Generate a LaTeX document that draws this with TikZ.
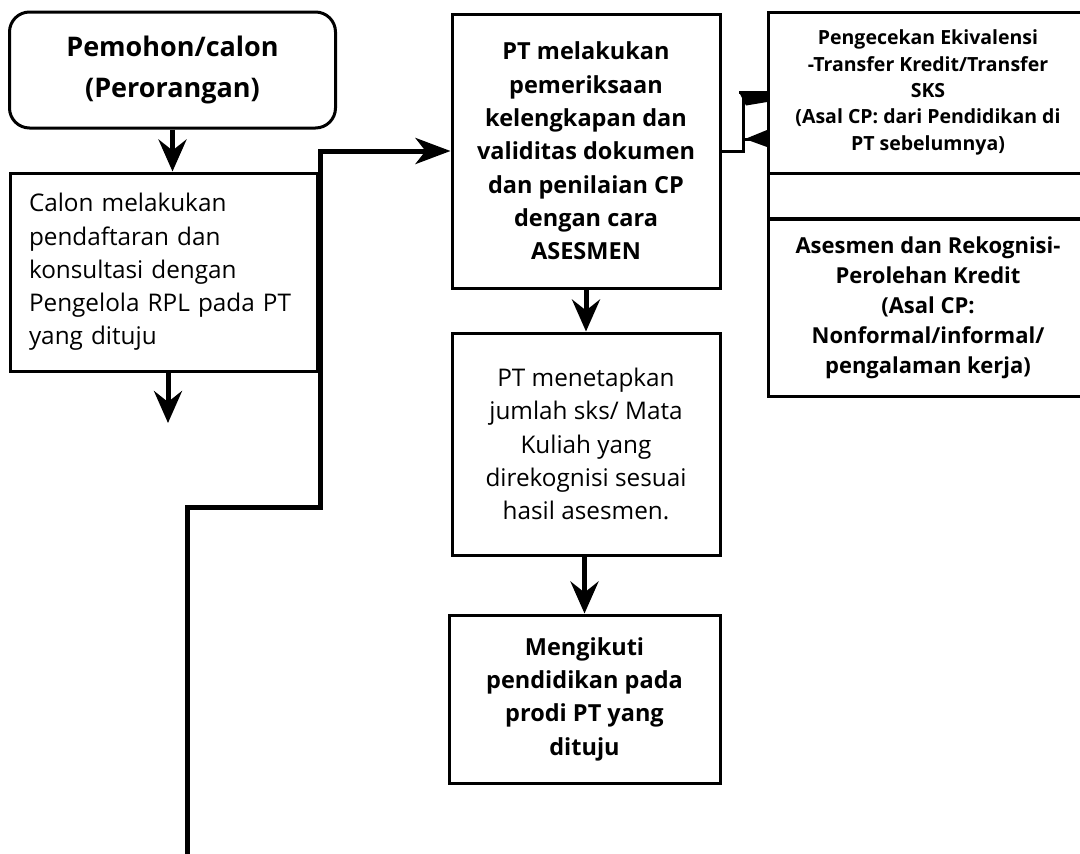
\documentclass[tikz,border=0pt]{standalone}
\usepackage{fontspec}
\setmainfont{Open Sans}
\usetikzlibrary{arrows.meta}
\begin{document}
\begin{tikzpicture}[x=1pt,y=-1pt,
  box/.style={draw, line width=3pt, inner sep=0pt, align=center},
  bigbold/.style={font=\bfseries\fontsize{23.5}{33.3}\selectfont},
  regtext/.style={font=\fontsize{24.3}{33.3}\selectfont},
  flow/.style={line width=5pt, -{Stealth[length=32pt,width=28pt,inset=11pt]}},
  mainline/.style={line width=5pt, line join=miter, -{Stealth[length=35pt,width=26pt,inset=10pt]}},
  bracketline/.style={line width=3pt},
  tipfill/.style={fill=black}
]
\useasboundingbox (0,0) rectangle (1080,854);
\fill[white] (0,0) rectangle (1080,854);
\clip (0,0) rectangle (1080,854);

% left column
\node[box, rounded corners=20pt, minimum width=326pt, minimum height=116pt,
      font=\bfseries\fontsize{27}{41}\selectfont] (A) at (172.5,70)
      {Pemohon/calon\\(Perorangan)};
\node[box, minimum width=307pt, minimum height=198pt, text width=269pt,
      inner xsep=19pt, align=left, regtext] (B) at (163.5,272)
      {Calon melakukan\\pendaftaran dan\\konsultasi dengan\\Pengelola RPL pada PT\\yang dituju};

% middle column
\node[box, minimum width=268pt, minimum height=274pt, bigbold] (C) at (586,151)
      {PT melakukan\\pemeriksaan\\kelengkapan dan\\validitas dokumen\\dan penilaian CP\\dengan cara\\ASESMEN};
\node[box, minimum width=268pt, minimum height=222pt, regtext] (D) at (586,444)
      {PT menetapkan\\jumlah sks/ Mata\\Kuliah yang\\direkognisi sesuai\\hasil asesmen.};
\node[box, minimum width=271pt, minimum height=168pt, bigbold] (E) at (584.5,699)
      {Mengikuti\\pendidikan pada\\prodi PT yang\\dituju};

% right column
\node[box, minimum width=320pt, minimum height=161pt,
      font=\bfseries\fontsize{19.5}{26.3}\selectfont] (F) at (928,92.5)
      {Pengecekan Ekivalensi\\-Transfer Kredit/Transfer\\SKS\\(Asal CP: dari Pendidikan di\\PT sebelumnya)};
\node[box, minimum width=320pt, minimum height=45pt] (G) at (928,195.5) {};
\node[box, minimum width=320pt, minimum height=177pt,
      font=\bfseries\fontsize{22}{30}\selectfont] (H) at (928,308)
      {Asesmen dan Rekognisi-\\Perolehan Kredit\\(Asal CP:\\Nonformal/informal/\\pengalaman kerja)};

% connectors
\draw[flow] (A.south) -- (A.south |- B.north);
\coordinate (Bout) at (168,423);
\draw[flow] ([xshift=4.5pt]B.south) -- (Bout);
\draw[flow] (C.south) -- (D.north);
\draw[flow] ([xshift=-1.5pt]D.south) -- ([xshift=-1.5pt]D.south |- E.north);

\coordinate (start) at (187,860);
\coordinate (k1) at (320,507);
\draw[mainline] (start) |- (k1) |- (C.west);

% bracket between C and the right boxes
\coordinate (b1) at (743,92);
\draw[bracketline] (C.east) -| (b1);
\coordinate (t1) at (739,92);
\coordinate (t2) at (745,139);
\draw[bracketline] (F.west |- t1) -- (t1);
\fill[tipfill] (t1) -- (767,93.5) -- (767,102) -- (746,105.5) -- cycle;
\draw[bracketline] (F.west |- t2) -- (t2);
\fill[tipfill] (t2) -- (767,130) -- (767,147) -- cycle;
\end{tikzpicture}
\end{document}
